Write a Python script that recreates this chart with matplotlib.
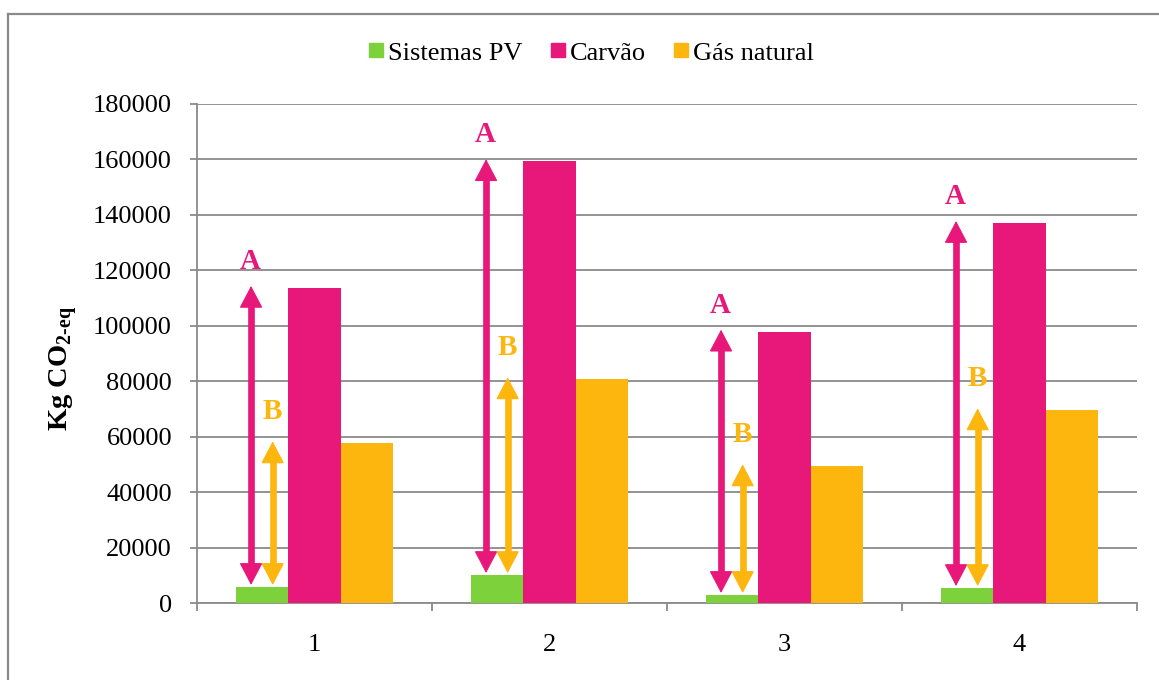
import matplotlib.pyplot as plt
from matplotlib.lines import Line2D
import numpy as np

plt.rcParams['font.family'] = ['Liberation Serif', 'DejaVu Serif']
plt.rcParams['mathtext.fontset'] = 'custom'
plt.rcParams['mathtext.rm'] = 'Liberation Serif'
plt.rcParams['mathtext.bf'] = 'Liberation Serif:bold'

categories = ['1', '2', '3', '4']
series = ['Sistemas PV', 'Carvão', 'Gás natural']
pv = [5800, 10100, 2900, 5400]
carvao = [113600, 159300, 97800, 137000]
gas = [57700, 80800, 49400, 69600]
yticks = [0, 20000, 40000, 60000, 80000, 100000, 120000, 140000, 160000, 180000]

colors = ['#7DD13B', '#E8187A', '#FDB60D']
grey = '#8A8A8A'


def double_arrow(ax, x, y0, y1, color):
    # filled triangular heads plus a thick shaft between them
    head = 6000
    ax.plot([x, x], [y0 + head, y1 - head], color=color, lw=4.8,
            solid_capstyle='butt', zorder=4)
    ax.annotate('', xy=(x, y1), xytext=(x, y0),
                arrowprops=dict(arrowstyle='<|-|>,head_length=1.45,head_width=0.76',
                                color=color, lw=0.8, mutation_scale=10,
                                shrinkA=0, shrinkB=0, joinstyle='miter'),
                zorder=4)


def main():
    fig = plt.figure(figsize=(11.59, 6.80), dpi=100)
    ax = fig.add_axes([197 / 1159, 1 - 603 / 680, 940 / 1159, 499 / 680])

    x = np.arange(len(categories))
    w = 2 / 9
    for i, vals in enumerate([pv, carvao, gas]):
        ax.bar(x + (i - 1) * w, vals, width=w, color=colors[i], zorder=3,
               label=series[i])

    # A: PV -> carvão, B: PV -> gás natural
    for xi, p, c, g in zip(x, pv, carvao, gas):
        xa, xb = xi - 0.27, xi - 0.178
        double_arrow(ax, xa, p + 700, c + 800, colors[1])
        double_arrow(ax, xb, p + 700, g + 600, colors[2])
        ax.text(xa - 0.005, c + 9600, 'A', color=colors[1], fontsize=21,
                fontweight='bold', ha='center', va='center')
        ax.text(xb, g + 11500, 'B', color=colors[2], fontsize=21,
                fontweight='bold', ha='center', va='center')

    ax.set_xlim(-0.5, 3.5)
    ax.set_ylim(0, 180000)
    ax.set_yticks(yticks)
    ax.set_yticklabels([str(v) for v in yticks], fontsize=19)
    ax.yaxis.grid(True, color=grey, lw=1.3, zorder=0)
    ax.set_xticks(x)
    ax.set_xticklabels(categories, fontsize=19)
    ax.set_xticks(np.arange(-0.5, 4, 1), minor=True)
    ax.tick_params(axis='x', which='major', length=0, pad=22)
    ax.tick_params(axis='x', which='minor', length=6, width=1.3, color=grey)
    ax.tick_params(axis='y', length=5, width=1.3, color=grey, pad=13)
    for s in ['top', 'right']:
        ax.spines[s].set_visible(False)
    for s in ['left', 'bottom']:
        ax.spines[s].set_color(grey)
        ax.spines[s].set_linewidth(1.3)

    ax.set_ylabel(r'Kg CO$_{\mathbf{2\text{-}eq}}$', fontsize=20.5,
                  fontweight='bold')
    ax.yaxis.set_label_coords(-0.124, 0.47)

    handles = [Line2D([], [], marker='s', ls='none', markersize=10,
                      markerfacecolor=c, markeredgecolor=c) for c in colors]
    fig.legend(handles, series, loc='center', ncol=3, frameon=False,
               bbox_to_anchor=(591 / 1159, 1 - 53 / 680), fontsize=19,
               handlelength=0.6, handletextpad=0.15, columnspacing=1.05)

    # chart border
    fig.add_artist(Line2D([8 / 1159, 1.0], [1 - 14 / 680] * 2, color=grey,
                          lw=1.6, transform=fig.transFigure))
    fig.add_artist(Line2D([8 / 1159] * 2, [0, 1 - 14 / 680], color=grey,
                          lw=1.6, transform=fig.transFigure))

    fig.savefig('out.png', dpi=100)


if __name__ == '__main__':
    main()
